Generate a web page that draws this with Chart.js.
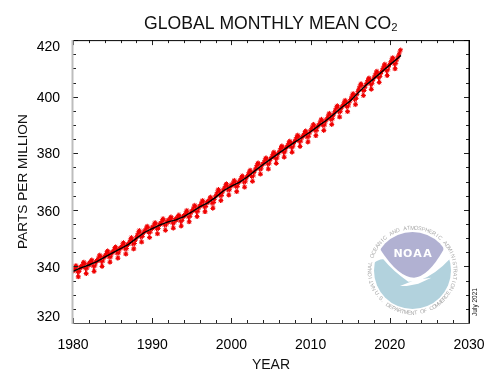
<!DOCTYPE html>
<html>
<head>
<meta charset="utf-8">
<style>html,body{margin:0;padding:0;background:#fff}#wrap{width:500px;height:387px}</style>
<script src="https://cdn.jsdelivr.net/npm/chart.js@4"></script>
</head>
<body>
<div id="wrap"><canvas id="c" width="500" height="387"></canvas></div>
<script>
const titleText = "GLOBAL MONTHLY MEAN CO\u2082";
const xAxisTitle = "YEAR";
const yAxisTitle = "PARTS PER MILLION";
const dateStamp = "July 2021";
const firstYear = 1980;
const xMajorTicks = [1980, 1990, 2000, 2010, 2020, 2030];
const yMajorTicks = [320, 340, 360, 380, 400, 420];
const monthlyCo2 = [
338.3,338.9,339.5,340.1,340.4,339.8,338.1,336.3,336.3,338.2,339.3,340.0,
339.5,340.1,340.6,341.4,341.6,341.0,339.3,337.5,337.4,339.4,340.5,341.2,
340.4,340.9,341.4,342.1,342.4,341.6,340.1,338.2,338.3,340.2,341.3,342.1,
341.8,342.4,343.0,343.7,344.1,343.5,341.8,340.0,340.0,341.9,343.0,343.7,
343.4,344.0,344.6,345.3,345.6,345.0,343.3,341.5,341.5,343.4,344.5,345.2,
344.9,345.5,346.1,346.7,347.0,346.4,344.7,342.9,342.9,344.8,345.9,346.7,
346.4,347.0,347.5,348.2,348.5,347.9,346.2,344.4,344.3,346.3,347.4,348.1,
348.0,348.6,349.2,349.9,350.3,349.7,347.9,346.1,346.2,348.1,349.2,350.0,
350.5,351.1,351.7,352.4,352.8,352.1,350.4,348.6,348.6,350.6,351.7,352.5,
352.2,352.8,353.3,354.0,354.3,353.7,352.0,350.2,350.2,352.1,353.2,353.9,
353.4,354.0,354.6,355.3,355.6,355.0,353.3,351.5,351.5,353.4,354.5,355.2,
354.8,355.4,355.9,356.6,357.0,356.4,354.6,352.8,352.7,354.7,355.8,356.4,
355.6,356.2,356.6,357.3,357.6,357.0,355.3,353.5,353.5,355.4,356.4,357.0,
356.3,356.9,357.4,358.0,358.3,357.7,356.0,354.2,354.3,356.2,357.3,358.0,
357.7,358.3,358.8,359.5,359.9,359.2,357.5,355.7,355.8,357.7,358.8,359.6,
359.5,360.1,360.7,361.4,361.7,361.1,359.4,357.6,357.6,359.5,360.6,361.4,
361.3,361.9,362.5,363.1,363.4,362.8,361.1,359.3,359.3,361.2,362.4,363.0,
362.5,363.1,363.6,364.3,364.6,364.0,362.3,360.5,360.6,362.6,363.7,364.6,
365.0,365.6,366.2,367.0,367.3,366.7,365.0,363.2,363.3,365.1,366.2,367.0,
367.2,367.8,368.3,369.0,369.3,368.7,367.0,365.2,365.2,367.1,368.2,368.9,
368.4,369.0,369.5,370.2,370.5,369.9,368.2,366.4,366.4,368.3,369.4,370.1,
370.0,370.6,371.1,371.8,372.1,371.5,369.8,368.0,368.0,369.9,371.0,371.8,
372.0,372.6,373.1,373.8,374.1,373.5,371.8,370.0,370.1,372.0,373.2,374.0,
374.5,375.1,375.7,376.4,376.7,376.1,374.4,372.6,372.6,374.5,375.6,376.3,
376.3,376.9,377.5,378.2,378.5,377.9,376.2,374.4,374.4,376.3,377.4,378.1,
378.4,379.0,379.5,380.2,380.5,379.9,378.2,376.4,376.4,378.3,379.5,380.2,
380.5,381.1,381.7,382.4,382.7,382.1,380.4,378.6,378.6,380.5,381.6,382.3,
382.3,382.9,383.5,384.1,384.4,383.8,382.1,380.3,380.4,382.3,383.4,384.2,
384.4,385.0,385.6,386.2,386.5,385.9,384.2,382.4,382.4,384.3,385.4,386.1,
385.9,386.5,387.0,387.7,388.0,387.4,385.7,383.9,384.0,386.0,387.1,387.9,
388.2,388.8,389.3,390.0,390.3,389.7,388.0,386.2,386.2,388.1,389.2,389.9,
390.0,390.6,391.1,391.8,392.1,391.5,389.8,388.0,388.1,390.0,391.1,391.8,
392.0,392.6,393.2,393.9,394.2,393.6,391.9,390.1,390.2,392.2,393.3,394.1,
394.7,395.3,395.9,396.6,396.9,396.3,394.6,392.8,392.8,394.7,395.8,396.5,
396.7,397.3,397.8,398.5,398.8,398.2,396.5,394.7,394.7,396.7,397.8,398.5,
399.0,399.6,400.2,400.9,401.2,400.6,398.9,397.1,397.3,399.4,400.8,401.8,
402.5,403.1,403.7,404.4,404.7,404.0,402.3,400.4,400.4,402.2,403.3,404.1,
404.6,405.2,405.7,406.4,406.7,406.1,404.4,402.6,402.6,404.6,405.7,406.5,
407.0,407.6,408.1,408.8,409.1,408.5,406.8,405.0,405.1,407.1,408.2,408.9,
409.4,410.0,410.6,411.3,411.6,410.9,409.2,407.4,407.5,409.5,410.7,411.4,
411.8,412.4,412.9,413.6,413.9,413.3,411.6,409.8,409.9,411.8,412.9,413.7,
414.1,414.8,415.4,416.2,416.6
];
const trendYears = [1980,1981,1982,1983,1984,1985,1986,1987,1988,1989,1990,1991,1992,1993,1994,1995,1996,1997,1998,1999,2000,2001,2002,2003,2004,2005,2006,2007,2008,2009,2010,2011,2012,2013,2014,2015,2016,2017,2018,2019,2020,2021,2021.4];
const trendValues = [338.3,339.5,340.5,341.7,343.3,344.8,346.25,347.8,349.9,352.0,353.4,354.7,355.75,356.45,357.6,359.25,361.05,362.5,364.4,366.75,368.4,369.75,371.6,373.85,376.05,378.0,380.05,382.0,383.95,385.75,387.6,389.7,391.65,394.0,396.35,398.5,401.35,404.15,406.4,408.85,411.25,413.6,414.6];

const FONT = "'Liberation Sans', Arial, sans-serif";
const labelShift = {320:-6, 340:2, 360:2, 380:1, 400:1, 420:7};

const frameAndTicks = {
  id: 'frameAndTicks',
  beforeDraw(chart) {
    const y = chart.scales.y;
    y.getLabelItems().forEach(item => {
      if (item.moved) return;
      const v = Math.round(y.getValueForPixel(item.options.translation[1]));
      const key = Math.round(v / 5) * 5;
      item.options.translation = [item.options.translation[0], item.options.translation[1] + (labelShift[key] || 0)];
      item.moved = true;
    });
  },
  afterDatasetsDraw(chart) {
    const {ctx, chartArea: a, scales: {x, y}} = chart;
    ctx.save();
    ctx.strokeStyle = '#222';
    ctx.lineWidth = 1;
    ctx.beginPath();
    x.ticks.forEach(t => {
      const len = xMajorTicks.includes(t.value) ? 5 : 3;
      const p = Math.round(x.getPixelForValue(t.value)) + 0.5;
      ctx.moveTo(p, a.top); ctx.lineTo(p, a.top + len);
      ctx.moveTo(p, a.bottom); ctx.lineTo(p, a.bottom - len);
    });
    y.ticks.forEach(t => {
      const len = yMajorTicks.includes(t.value) ? 5 : 3;
      const p = Math.round(y.getPixelForValue(t.value)) + 0.5;
      ctx.moveTo(a.left, p); ctx.lineTo(a.left + len, p);
      ctx.moveTo(a.right, p); ctx.lineTo(a.right - len, p);
    });
    ctx.stroke();
    ctx.strokeStyle = '#000';
    ctx.beginPath();
    ctx.moveTo(a.left, a.top + 0.5); ctx.lineTo(a.right + 1, a.top + 0.5);
    ctx.stroke();
    ctx.lineWidth = 1.5;
    ctx.beginPath();
    ctx.moveTo(a.right + 0.25, a.top); ctx.lineTo(a.right + 0.25, a.bottom);
    ctx.stroke();
    ctx.lineWidth = 1;
    ctx.strokeStyle = '#555';
    ctx.beginPath();
    ctx.moveTo(a.left, a.bottom + 0.5); ctx.lineTo(a.right + 1, a.bottom + 0.5);
    ctx.stroke();
    ctx.lineWidth = 2;
    ctx.strokeStyle = '#bdbdbd';
    ctx.beginPath();
    ctx.moveTo(a.left - 0.5, a.top); ctx.lineTo(a.left - 0.5, a.bottom + 1);
    ctx.stroke();
    ctx.restore();
  }
};

function arcText(ctx, text, cx, cy, r, midAngle, step, outward) {
  const n = text.length;
  for (let i = 0; i < n; i++) {
    const off = (i - (n - 1) / 2) * step;
    const ang = outward ? midAngle + off : midAngle - off;
    ctx.save();
    ctx.translate(cx + r * Math.cos(ang), cy + r * Math.sin(ang));
    ctx.rotate(outward ? ang + Math.PI / 2 : ang - Math.PI / 2);
    ctx.fillText(text[i], 0, 0);
    ctx.restore();
  }
}

const logo = {
  id: 'logo',
  afterDraw(chart) {
    const ctx = chart.ctx;
    const cx = 412.5, cy = 270.5, r = 38.5;
    const px = zx => 340 + zx / 3, py = zy => 190 + zy / 3;
    ctx.save();
    ctx.beginPath(); ctx.arc(cx, cy, r, 0, Math.PI * 2); ctx.clip();
    ctx.fillStyle = '#b2d2dd';
    ctx.beginPath();
    ctx.moveTo(px(85), py(232));
    ctx.quadraticCurveTo(px(115), py(205), px(130), py(208));
    ctx.quadraticCurveTo(px(160), py(245), px(205), py(275));
    ctx.lineTo(px(235), py(273));
    ctx.quadraticCurveTo(px(290), py(255), px(345), py(190));
    ctx.lineTo(px(345), py(370)); ctx.lineTo(px(85), py(370));
    ctx.closePath(); ctx.fill();
    ctx.fillStyle = '#b1b1d2';
    ctx.beginPath();
    ctx.moveTo(px(122), py(180));
    ctx.quadraticCurveTo(px(175), py(262), px(222), py(263));
    ctx.quadraticCurveTo(px(265), py(260), px(310), py(180));
    ctx.lineTo(px(310), py(120)); ctx.lineTo(px(122), py(120));
    ctx.closePath(); ctx.fill();
    ctx.fillStyle = '#fff';
    ctx.beginPath();
    ctx.moveTo(px(180), py(288));
    ctx.lineTo(px(225), py(270));
    ctx.lineTo(px(274), py(263));
    ctx.lineTo(px(235), py(281));
    ctx.lineTo(px(200), py(288));
    ctx.closePath(); ctx.fill();
    ctx.restore();

    ctx.save();
    ctx.fillStyle = '#fff';
    ctx.font = "bold 11px 'DejaVu Sans', sans-serif";
    ctx.textAlign = 'center';
    ctx.textBaseline = 'middle';
    ['N','O','A','A'].forEach((ch, i) => ctx.fillText(ch, 398 + i * 9.8, 254));
    ctx.font = "5.5px " + FONT;
    ctx.fillStyle = '#a8a8a8';
    ctx.textBaseline = 'alphabetic';
    arcText(ctx, "NATIONAL OCEANIC AND ATMOSPHERIC ADMINISTRATION", cx, cy, 41, -Math.PI / 2, 0.0875, true);
    arcText(ctx, "U.S. DEPARTMENT OF COMMERCE", cx, cy, 44, Math.PI / 2, 0.0775, false);
    ctx.fillStyle = '#111';
    ctx.font = "6.5px " + FONT;
    ctx.translate(477, 302);
    ctx.rotate(-Math.PI / 2);
    ctx.fillText(dateStamp, 0, 0);
    ctx.restore();
  }
};

const redPoints = monthlyCo2.map((v, i) => ({x: firstYear + (i + 0.5) / 12, y: v}));
const blackPoints = trendYears.map((yr, i) => ({x: yr, y: trendValues[i]}));

new Chart(document.getElementById('c'), {
  type: 'line',
  data: {
    datasets: [
      {label: 'Trend', data: blackPoints, borderColor: '#000', borderWidth: 1.4, pointRadius: 0, tension: 0, order: 1},
      {label: 'Monthly mean', data: redPoints, borderColor: '#e8000b', backgroundColor: '#e8000b', borderWidth: 0.8,
       pointStyle: 'star', pointRadius: 2.2, pointBorderWidth: 1, pointBorderColor: '#f00000', tension: 0, order: 2}
    ]
  },
  plugins: [frameAndTicks, logo],
  options: {
    responsive: false,
    animation: false,
    events: [],
    layout: {padding: {left: 0, right: 31, top: 0, bottom: 13}},
    plugins: {
      legend: {display: false},
      tooltip: {enabled: false},
      title: {display: true, fullSize: false, text: titleText, color: '#111', font: {family: FONT, size: 17.6, weight: 'normal'},
              padding: {top: 14, bottom: 5}}
    },
    scales: {
      x: {
        type: 'linear', min: 1980, max: 2030,
        afterFit(s) { s.height = 51; },
        border: {display: false},
        grid: {display: false},
        ticks: {stepSize: 2, autoSkip: false, maxRotation: 0, color: '#000', padding: 6,
                font: {family: FONT, size: 14},
                callback: v => xMajorTicks.includes(v) ? String(v) : ''},
        title: {display: true, text: xAxisTitle, color: '#111', font: {family: FONT, size: 14}, padding: {top: 0, bottom: 0}}
      },
      y: {
        min: 320, max: 420,
        afterFit(s) { s.width = 73; },
        border: {display: false},
        grid: {display: false},
        ticks: {stepSize: 5, autoSkip: false, color: '#000', padding: 5,
                font: {family: FONT, size: 14},
                callback: v => yMajorTicks.includes(v) ? String(v) : ''},
        title: {display: true, text: yAxisTitle, color: '#111', font: {family: FONT, size: 13.7}, padding: {top: 15, bottom: 0}}
      }
    }
  }
});
</script>
</body>
</html>
